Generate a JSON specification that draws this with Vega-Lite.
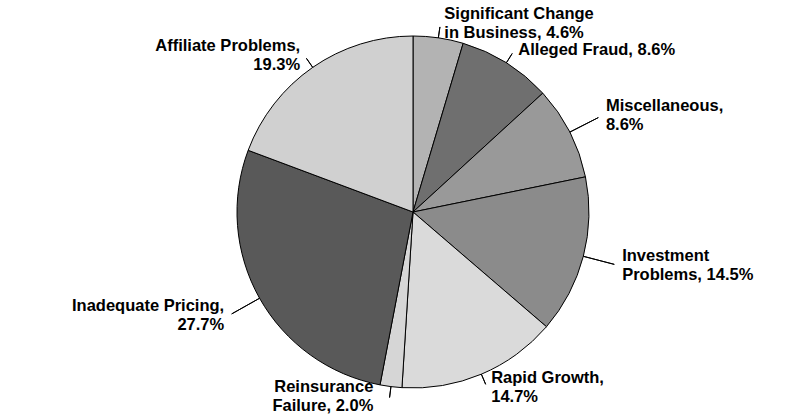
{
  "$schema": "https://vega.github.io/schema/vega-lite/v6.json",
  "width": 774,
  "height": 408,
  "autosize": "none",
  "padding": {"left": 26, "top": 8, "right": 0, "bottom": 0},
  "background": "white",
  "config": {
    "view": {"stroke": null},
    "text": {"font": "Liberation Sans", "fontWeight": "bold", "fontSize": 16.5, "lineHeight": 19, "lineBreak": "\n", "color": "black", "baseline": "middle"}
  },
  "data": {
    "values": [
      {"cause": "Significant Change in Business", "pct": 4.6, "label": "Significant Change\nin Business, 4.6%"},
      {"cause": "Alleged Fraud", "pct": 8.6, "label": "Alleged Fraud, 8.6%"},
      {"cause": "Miscellaneous", "pct": 8.6, "label": "Miscellaneous,\n8.6%"},
      {"cause": "Investment Problems", "pct": 14.5, "label": "Investment\nProblems, 14.5%"},
      {"cause": "Rapid Growth", "pct": 14.7, "label": "Rapid Growth,\n14.7%"},
      {"cause": "Reinsurance Failure", "pct": 2.0, "label": "Reinsurance\nFailure, 2.0%"},
      {"cause": "Inadequate Pricing", "pct": 27.7, "label": "Inadequate Pricing,\n27.7%"},
      {"cause": "Affiliate Problems", "pct": 19.3, "label": "Affiliate Problems,\n19.3%"}
    ]
  },
  "transform": [
    {"window": [{"op": "sum", "field": "pct", "as": "end"}], "frame": [null, 0]},
    {"calculate": "datum.end - datum.pct", "as": "start"},
    {"calculate": "datum.end - datum.pct / 2", "as": "mid"},
    {"calculate": "abs(sin(datum.mid * PI / 50)) > 0.8", "as": "side"}
  ],
  "encoding": {
    "theta": {"field": "mid", "type": "quantitative", "stack": null, "scale": {"domain": [0, 100]}}
  },
  "layer": [
    {
      "mark": {"type": "arc", "stroke": "black", "strokeWidth": 1},
      "encoding": {
        "theta": {"field": "start", "type": "quantitative", "stack": null, "scale": {"domain": [0, 100]}},
        "theta2": {"field": "end"},
        "radius": {"value": 176},
        "color": {
          "field": "cause",
          "type": "nominal",
          "legend": null,
          "scale": {
            "domain": ["Significant Change in Business", "Alleged Fraud", "Miscellaneous", "Investment Problems", "Rapid Growth", "Reinsurance Failure", "Inadequate Pricing", "Affiliate Problems"],
            "range": ["#b3b3b3", "#6f6f6f", "#999999", "#8b8b8b", "#dadada", "#d6d6d6", "#595959", "#d0d0d0"]
          }
        }
      }
    },
    {
      "transform": [{"filter": "!datum.side"}],
      "mark": {"type": "arc", "filled": false, "color": "black", "strokeWidth": 1},
      "encoding": {
        "theta2": {"field": "mid"},
        "radius": {"value": 187},
        "radius2": {"value": 176}
      }
    },
    {
      "transform": [{"filter": "datum.side"}],
      "mark": {"type": "arc", "filled": false, "color": "black", "strokeWidth": 1},
      "encoding": {
        "theta2": {"field": "mid"},
        "radius": {"value": 208},
        "radius2": {"value": 176}
      }
    },
    {
      "transform": [{"filter": "datum.mid < 4"}],
      "mark": {"type": "text", "align": "left", "dx": 4, "dy": -9.5},
      "encoding": {"radius": {"value": 190}, "text": {"field": "label"}}
    },
    {
      "transform": [{"filter": "datum.mid > 4 && datum.mid < 15"}],
      "mark": {"type": "text", "align": "left", "dx": 4},
      "encoding": {"radius": {"value": 191}, "text": {"field": "label"}}
    },
    {
      "transform": [{"filter": "datum.side && datum.mid < 50"}],
      "mark": {"type": "text", "align": "left", "dx": 4, "dy": -9.5},
      "encoding": {"radius": {"value": 212}, "text": {"field": "label"}}
    },
    {
      "transform": [{"filter": "!datum.side && datum.mid > 35 && datum.mid < 50"}],
      "mark": {"type": "text", "align": "left", "dx": 4, "dy": -9.5},
      "encoding": {"radius": {"value": 191}, "text": {"field": "label"}}
    },
    {
      "transform": [{"filter": "datum.mid > 50 && datum.mid < 55"}],
      "mark": {"type": "text", "align": "right", "dx": -16, "dy": -13},
      "encoding": {"radius": {"value": 189}, "text": {"field": "label"}}
    },
    {
      "transform": [{"filter": "datum.side && datum.mid > 55"}],
      "mark": {"type": "text", "align": "right", "dx": -4, "dy": -9.5},
      "encoding": {"radius": {"value": 212}, "text": {"field": "label"}}
    },
    {
      "transform": [{"filter": "!datum.side && datum.mid > 55"}],
      "mark": {"type": "text", "align": "right", "dx": -4, "dy": -9.5},
      "encoding": {"radius": {"value": 191}, "text": {"field": "label"}}
    }
  ]
}
